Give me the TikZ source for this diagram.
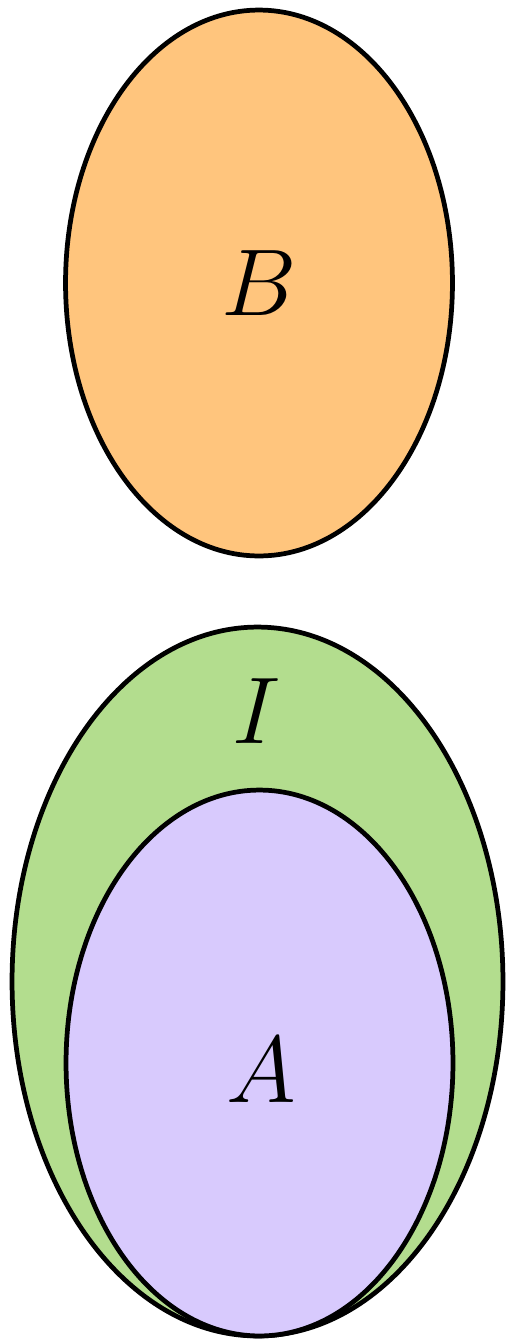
\documentclass[tikz,border=0pt]{standalone}
\usepackage{tikz}
\usetikzlibrary{shapes.geometric}

\definecolor{setorange}{HTML}{FFC57D}
\definecolor{setgreen}{HTML}{B3DD8E}
\definecolor{setpurple}{HTML}{D8CAFD}

\begin{document}
\begin{tikzpicture}[
  x=0.02cm, y=-0.02cm,
  set/.style={ellipse, draw, line width=2.7pt, inner sep=0pt},
  lbl/.style={inner sep=0pt, font=\Huge, scale=2.17}
]
  \useasboundingbox (0,0) rectangle (505,1339);

  \node[set, fill=setorange, minimum width=7.74cm, minimum height=10.92cm] (setB) at (259,283) {};
  \node[set, fill=setgreen, minimum width=9.82cm, minimum height=14.18cm] (setI) at (257.5,981.5) {};
  \node[set, fill=setpurple, minimum width=7.74cm, minimum height=10.92cm] (setA) at (259.5,1063) {};

  \node[lbl] (labB) at (setB.center) {$B$};
  \node[lbl] (labI) at (257,711) {$I$};
  \node[lbl] (labA) at (261,1070) {$A$};
\end{tikzpicture}
\end{document}
